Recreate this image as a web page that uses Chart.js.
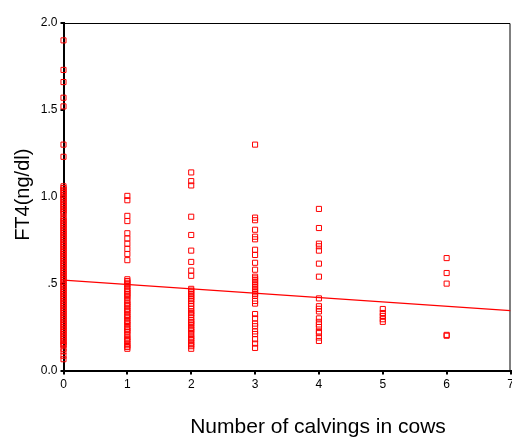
<!DOCTYPE html>
<html lang="en">
<head>
    <meta charset="UTF-8">
    <title>FT4 by number of calvings</title>
    <script src="https://cdn.jsdelivr.net/npm/chart.js@4.4.1/dist/chart.umd.min.js"></script>
    <style>
        body {
    margin: 0;
    background-color: #ffffff;
}
#chart {
    display: block;
}
    </style>
</head>
<body>
    <canvas id="chart" width="512" height="438"></canvas>

    <script>
// FT4 readings (ng/dl), one list per number of calvings
const calvings = [0, 1, 2, 3, 4, 5, 6];
const ft4At0 = [1.90, 1.73, 1.66, 1.57, 1.52, 1.30, 1.23, 1.06, 1.05, 1.04, 1.03, 1.02, 1.01, 1.00, 0.99, 0.98,
    0.97, 0.96, 0.95, 0.94, 0.93, 0.92, 0.91, 0.90, 0.88, 0.87, 0.86, 0.85, 0.84, 0.83, 0.82, 0.81, 0.80, 0.79,
    0.78, 0.77, 0.76, 0.75, 0.74, 0.73, 0.72, 0.71, 0.70, 0.69, 0.68, 0.67, 0.66, 0.65, 0.64, 0.63, 0.62, 0.61,
    0.60, 0.59, 0.58, 0.57, 0.56, 0.55, 0.54, 0.53, 0.52, 0.51, 0.50, 0.49, 0.48, 0.47, 0.46, 0.45, 0.44, 0.43,
    0.42, 0.41, 0.40, 0.39, 0.38, 0.37, 0.36, 0.35, 0.34, 0.33, 0.32, 0.31, 0.30, 0.29, 0.28, 0.27, 0.26, 0.25,
    0.24, 0.23, 0.22, 0.21, 0.20, 0.19, 0.18, 0.17, 0.16, 0.15, 0.145, 0.125, 0.11, 0.085, 0.065];
const ft4At1 = [1.005, 0.98, 0.89, 0.86, 0.79, 0.76, 0.73, 0.70, 0.67, 0.635, 0.525, 0.515, 0.505, 0.495, 0.485,
    0.47, 0.46, 0.45, 0.44, 0.43, 0.42, 0.405, 0.39, 0.38, 0.37, 0.355, 0.345, 0.335, 0.32, 0.31, 0.30, 0.285,
    0.275, 0.265, 0.25, 0.24, 0.23, 0.22, 0.205, 0.19, 0.18, 0.17, 0.155, 0.145, 0.135, 0.125];
const ft4At2 = [1.14, 1.09, 1.065, 0.885, 0.78, 0.69, 0.625, 0.575, 0.545, 0.47, 0.46, 0.45, 0.44, 0.43, 0.42,
    0.41, 0.40, 0.385, 0.37, 0.355, 0.34, 0.33, 0.32, 0.305, 0.29, 0.28, 0.27, 0.26, 0.245, 0.235, 0.225, 0.21,
    0.195, 0.185, 0.175, 0.16, 0.15, 0.14, 0.125];
const ft4At3 = [1.30, 0.88, 0.865, 0.81, 0.77, 0.755, 0.695, 0.665, 0.62, 0.58, 0.54, 0.53, 0.52, 0.51, 0.50,
    0.49, 0.48, 0.47, 0.46, 0.45, 0.44, 0.43, 0.40, 0.385, 0.325, 0.30, 0.27, 0.255, 0.225, 0.21, 0.18, 0.155, 0.13];
const ft4At4 = [0.93, 0.82, 0.73, 0.715, 0.69, 0.615, 0.54, 0.415, 0.37, 0.355, 0.34, 0.30, 0.28, 0.265, 0.25,
    0.225, 0.215, 0.19, 0.17];
const ft4At5 = [0.354, 0.331, 0.314, 0.295, 0.28];
const ft4At6 = [0.647, 0.561, 0.50, 0.205, 0.20];

// ends of the fitted regression line
const fitX = [0, 7];
const fitY = [0.52, 0.345];

const yTickLabels = ['0.0', '.5', '1.0', '1.5', '2.0'];
const xTitle = 'Number of calvings in cows';
const yTitle = 'FT4(ng/dl)';

const groups = [ft4At0, ft4At1, ft4At2, ft4At3, ft4At4, ft4At5, ft4At6];
const points = [];
groups.forEach((vals, i) => {
    vals.forEach(v => points.push({ x: calvings[i], y: v }));
});

const red = '#ff0000';
const font = 'Arial, "Liberation Sans", sans-serif';

// frame around the plot plus the two axis titles
const framePlugin = {
    id: 'frame',
    beforeDatasetsDraw(chart) {
        const a = chart.chartArea;
        const ctx = chart.ctx;
        ctx.save();
        ctx.strokeStyle = '#000';
        ctx.lineWidth = 1;
        ctx.beginPath();
        ctx.moveTo(a.left, a.top + 0.5);
        ctx.lineTo(a.right - 0.5, a.top + 0.5);
        ctx.lineTo(a.right - 0.5, a.bottom);
        ctx.stroke();
        ctx.restore();
    },
    afterDraw(chart) {
        const a = chart.chartArea;
        const ctx = chart.ctx;
        ctx.save();
        ctx.fillStyle = '#000';
        ctx.font = '21px ' + font;
        ctx.textAlign = 'center';
        ctx.textBaseline = 'alphabetic';
        ctx.fillText(xTitle, (a.left + a.right) / 2 + 31, 433);
        ctx.font = '20px ' + font;
        ctx.translate(29, (a.top + a.bottom) / 2 - 2);
        ctx.rotate(-Math.PI / 2);
        ctx.fillText(yTitle, 0, 0);
        ctx.restore();
    }
};

function noPadding(scale) {
    scale.paddingLeft = 0;
    scale.paddingRight = 0;
    scale.paddingTop = 0;
    scale.paddingBottom = 0;
}

new Chart(document.getElementById('chart'), {
    type: 'scatter',
    data: {
        datasets: [{
            data: points,
            pointStyle: 'rect',
            pointRadius: 3.6,
            pointBorderWidth: 1,
            pointBorderColor: red,
            pointBackgroundColor: 'rgba(255,255,255,0)',
            clip: false
        }, {
            type: 'line',
            data: fitX.map((x, i) => ({ x: x, y: fitY[i] })),
            borderColor: red,
            borderWidth: 1.2,
            pointRadius: 0,
            fill: false
        }]
    },
    options: {
        responsive: false,
        animation: false,
        layout: { autoPadding: false, padding: { left: 0.5, top: 23, right: 1.5, bottom: 0 } },
        plugins: {
            legend: { display: false },
            tooltip: { enabled: false }
        },
        scales: {
            x: {
                type: 'linear',
                min: 0,
                max: 7,
                afterFit(scale) {
                    noPadding(scale);
                    scale.height = 67.5;
                },
                ticks: {
                    stepSize: 1,
                    color: '#000',
                    padding: 3,
                    maxRotation: 0,
                    font: { family: font, size: 12 }
                },
                grid: { drawOnChartArea: false, tickLength: 4, color: '#000', lineWidth: 2 },
                border: { color: '#000', width: 2 }
            },
            y: {
                min: 0,
                max: 2,
                afterFit(scale) {
                    noPadding(scale);
                    scale.width = 63;
                },
                ticks: {
                    stepSize: 0.5,
                    color: '#000',
                    padding: 3,
                    font: { family: font, size: 12 },
                    callback: (v, i) => yTickLabels[i]
                },
                grid: { drawOnChartArea: false, tickLength: 3, color: '#000', lineWidth: 2 },
                border: { color: '#000', width: 2 }
            }
        }
    },
    plugins: [framePlugin]
});
    </script>
</body>
</html>
